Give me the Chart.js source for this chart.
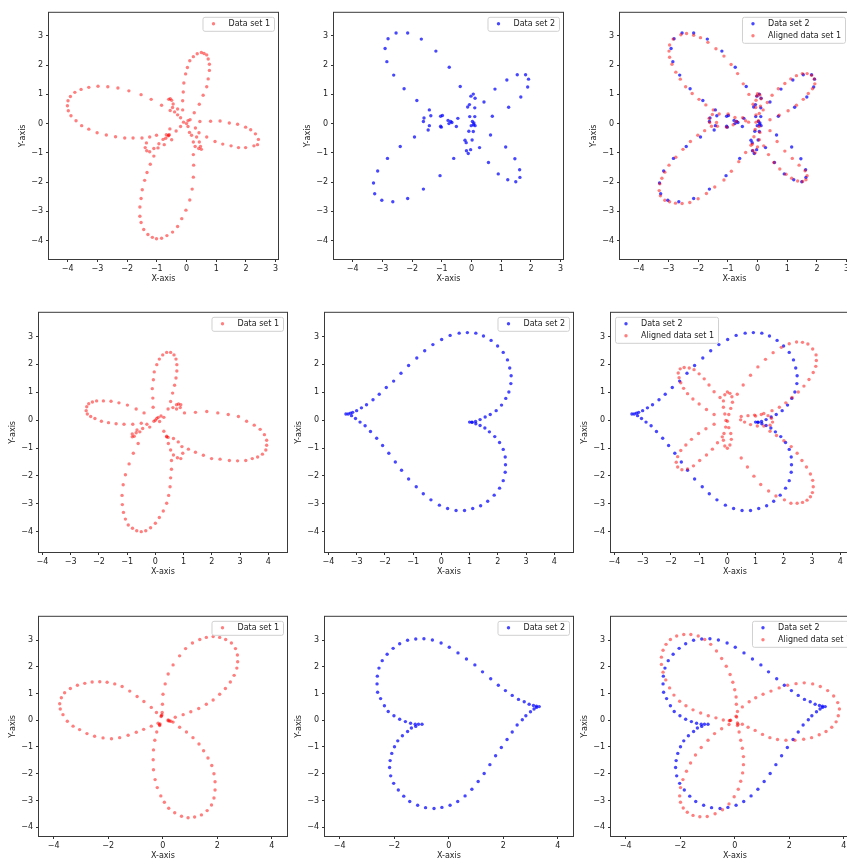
<!DOCTYPE html>
<html>
<head>
<meta charset="utf-8">
<script src="https://cdn.jsdelivr.net/npm/chart.js@4.4.0/dist/chart.umd.min.js"></script>
<style>
  html, body { margin: 0; padding: 0; background: #fff; overflow: hidden; width: 847px; height: 859px; }
  canvas { position: absolute; }
</style>
</head>
<body>
<script>
// ---- tick labels ----
var ticksX1 = [-4, -3, -2, -1, 0, 1, 2, 3];
var ticksX2 = [-4, -3, -2, -1, 0, 1, 2, 3, 4];
var ticksX3 = [-4, -2, 0, 2, 4];
var ticksY = [-4, -3, -2, -1, 0, 1, 2, 3];

// ---- row 1 : four petal rose ----
var rose4A = [
  [-0.13,0.47],[-0.13,0.78],[-0.11,1.08],[-0.09,1.39],[-0.03,1.70],[0.03,1.92],[0.11,2.15],[0.23,2.29],[0.36,2.39],[0.50,2.43],
  [0.59,2.40],[0.68,2.35],[0.73,2.21],[0.77,2.03],[0.77,1.82],[0.73,1.53],[0.68,1.26],[0.56,0.97],[0.43,0.66],[0.26,0.37],[0.12,0.13],
  [0.45,0.07],[0.81,0.08],[1.13,0.09],[1.44,0.02],[1.72,-0.02],[1.99,-0.12],[2.16,-0.21],[2.32,-0.35],[2.42,-0.54],[2.39,-0.72],
  [2.27,-0.76],[1.99,-0.82],[1.75,-0.82],[1.50,-0.76],[1.22,-0.70],[0.96,-0.61],[0.68,-0.46],[0.42,-0.31],
  [0.34,-0.46],[0.43,-0.63],[0.47,-0.78],[0.50,-0.88],[0.41,-0.85],[0.29,-0.78],[0.23,-0.63],[0.17,-0.40],
  [0.23,-1.06],[0.24,-1.42],[0.23,-1.83],[0.19,-2.24],[0.11,-2.61],[-0.02,-2.96],[-0.16,-3.25],[-0.30,-3.52],[-0.47,-3.71],[-0.66,-3.83],
  [-0.84,-3.92],[-1.01,-3.94],[-1.15,-3.89],[-1.30,-3.79],[-1.44,-3.62],[-1.53,-3.38],[-1.57,-3.17],[-1.57,-2.85],[-1.53,-2.56],
  [-1.49,-2.26],[-1.41,-1.94],[-1.33,-1.67],[-1.22,-1.39],[-1.10,-1.11],[-0.96,-0.83],
  [-1.35,-0.66],[-1.39,-0.82],[-1.34,-0.93],[-1.24,-0.96],[-1.10,-0.85],[-0.93,-0.69],[-0.79,-0.54],[-0.68,-0.38],[-0.56,-0.18],
  [-0.84,0.63],[-1.19,0.83],[-1.53,0.99],[-1.94,1.12],[-2.31,1.22],[-2.65,1.26],[-2.98,1.28],[-3.29,1.24],[-3.55,1.17],[-3.76,1.07],
  [-3.91,0.93],[-3.99,0.78],[-4.01,0.61],[-3.98,0.44],[-3.89,0.27],[-3.72,0.10],[-3.53,-0.07],[-3.29,-0.19],[-3.01,-0.31],[-2.70,-0.39],
  [-2.39,-0.45],[-2.08,-0.49],[-1.80,-0.49],[-1.50,-0.49],[-1.24,-0.46],[-1.01,-0.40],
  [-0.60,0.83],[-0.55,0.85],[-0.50,0.80],[-0.45,0.67],[-0.47,0.55],[-0.55,0.45],[-0.40,0.40],[-0.30,0.30],[-0.20,0.20],
  [-0.10,0.05],[0.00,0.00],[0.05,-0.10],[-0.20,-0.10],[-0.35,-0.25],[-0.60,-0.40],[-0.62,-0.42],[-0.58,-0.38],[-0.50,-0.55],
  [-0.70,-0.50],[-0.75,-0.72],[0.05,0.10],[0.10,-0.30],[0.30,-0.15],[-0.30,0.50]
];

var rose4B = [
  [-2.54,3.10],[-2.15,3.10],[-2.81,2.90],[-1.69,2.89],[-2.91,2.57],[-1.20,2.48],[-2.85,2.12],[-0.75,1.93],[-2.62,1.66],[-0.38,1.27],
  [-2.27,1.19],[-1.84,0.79],[-1.42,0.47],[-1.60,0.19],[-1.62,0.07],[-1.37,0.27],[-0.98,0.28],[-1.04,0.25],[-1.42,-0.07],[-1.46,-0.22],
  [-1.04,-0.09],[-1.02,-0.12],[-0.79,0.11],[-0.76,0.00],[-0.70,0.07],[-0.66,0.04],[-0.51,-0.10],[-0.46,0.18],[-1.92,-0.46],[-2.40,-0.78],
  [-2.83,-1.19],[-3.16,-1.62],[-3.30,-2.03],[-3.26,-2.40],[-3.02,-2.62],[-2.65,-2.67],[-2.15,-2.56],[-1.62,-2.24],[-1.06,-1.78],[-0.60,-1.19],
  [-0.22,-0.57],[-0.18,-0.65],[-0.17,-0.93],[-0.11,-1.02],[-0.03,-0.89],[0.27,-0.82],[0.02,-0.56],[-0.09,-0.26],[0.06,-0.27],[-0.06,0.24],
  [-0.01,-0.07],[0.07,-0.04],[0.08,0.02],[0.03,0.07],[0.12,-0.07],[0.11,0.24],[-0.07,0.65],[-0.13,0.57],[-0.02,0.94],[0.06,1.01],
  [0.12,0.87],[0.11,0.54],[0.42,0.74],[0.70,0.25],[0.64,-0.39],[0.57,-1.33],[0.90,-1.72],[1.22,-1.92],[1.49,-1.99],[1.63,-1.84],
  [1.62,-1.58],[1.46,-1.20],[1.15,-0.80],[1.25,0.56],[1.66,0.91],[1.89,1.25],[1.92,1.52],[1.82,1.67],[1.54,1.67],[1.19,1.49],[0.79,1.18]
];

var rose4BAligned = [
  [-2.39,3.08],[-2.58,3.04],[-2.84,2.89],[-2.96,2.69],[-2.98,2.48],[-2.96,2.27],[-2.88,2.03],[-2.75,1.76],[-2.60,1.52],[-2.42,1.26],
  [-2.20,1.03],[-1.97,0.83],[-1.74,0.64],[-1.49,0.47],
  [-2.15,3.02],[-1.92,2.94],[-1.67,2.78],[-1.40,2.56],[-1.13,2.31],[-0.89,2.02],[-0.67,1.71],[-0.48,1.36],[-0.29,1.00],[-0.15,0.66],
  [-3.31,-2.29],[-3.29,-2.06],[-3.27,-2.47],[-3.12,-2.62],[-2.96,-2.67],[-2.76,-2.72],[-2.54,-2.73],[-2.28,-2.70],[-2.00,-2.57],
  [-1.72,-2.39],[-1.44,-2.17],[-1.13,-1.93],[-0.88,-1.63],[-0.63,-1.30],[-0.40,-0.99],[-0.22,-0.74],
  [-3.22,-1.87],[-3.12,-1.66],[-2.98,-1.42],[-2.75,-1.15],[-2.51,-0.88],[-2.26,-0.61],[-2.01,-0.40],[-1.78,-0.24],[-1.55,-0.09],[-1.38,0.04],
  [-1.29,0.33],[-0.99,0.33],[-0.76,0.21],[-0.71,0.07],[-0.82,-0.04],[-1.04,-0.12],[-1.35,-0.09],[-1.61,0.04],[-1.63,0.18],[-1.52,0.31],
  [-0.50,0.20],[-0.40,0.10],[-0.30,0.05],
  [0.00,1.02],[0.08,0.98],[0.12,0.85],[0.10,0.60],[0.06,0.35],[0.03,0.10],[0.05,-0.10],[0.08,-0.30],[0.06,-0.55],[0.00,-0.80],
  [-0.08,-1.00],[-0.15,-0.92],[-0.17,-0.70],[-0.12,-0.45],[-0.08,-0.20],[-0.05,0.05],[-0.05,0.30],[-0.06,0.55],[-0.05,0.80],[-0.03,0.95],
  [0.42,0.13],[0.73,0.29],[1.03,0.44],[1.31,0.63],[1.54,0.83],[1.71,1.03],[1.85,1.19],[1.93,1.36],[1.91,1.53],[1.82,1.65],
  [1.67,1.71],[1.51,1.71],[1.31,1.64],[1.12,1.53],[0.92,1.37],[0.70,1.19],[0.49,0.97],[0.33,0.72],[0.19,0.47],
  [0.42,-0.24],[0.66,-0.61],[0.92,-0.94],[1.17,-1.19],[1.40,-1.42],[1.60,-1.61],[1.67,-1.78],[1.63,-1.92],[1.52,-1.98],[1.35,-1.96],
  [1.15,-1.87],[0.96,-1.73],[0.75,-1.55],[0.55,-1.33],[0.37,-1.06],[0.21,-0.76]
];

// ---- row 2 : rose and heart ----
var rose4C = [
  [-0.08,0.46],[-0.09,0.79],[-0.11,1.13],[-0.07,1.45],[-0.04,1.73],[0.05,1.99],[0.14,2.19],[0.26,2.34],[0.40,2.43],[0.54,2.43],
  [0.66,2.34],[0.73,2.19],[0.76,1.99],[0.76,1.76],[0.73,1.51],[0.68,1.25],[0.61,0.97],[0.54,0.67],[0.45,0.40],
  [1.03,0.26],[1.42,0.28],[1.82,0.31],[2.21,0.26],[2.58,0.20],[2.94,0.13],[3.23,-0.04],[3.50,-0.18],[3.71,-0.33],[3.86,-0.52],
  [3.94,-0.72],[3.94,-0.90],[3.91,-1.07],[3.79,-1.22],[3.62,-1.32],[3.43,-1.38],[3.20,-1.45],[2.91,-1.46],[2.62,-1.45],[2.29,-1.40],
  [1.99,-1.38],[1.70,-1.26],[1.42,-1.15],[1.17,-1.04],
  [0.40,-0.58],[0.46,-0.84],[0.54,-1.07],[0.64,-1.25],[0.78,-1.35],[0.90,-1.38],[0.97,-1.19],[0.94,-0.95],[0.81,-0.78],[0.64,-0.66],
  [0.57,-1.45],[0.57,-1.76],[0.54,-2.07],[0.52,-2.39],[0.47,-2.70],[0.40,-2.98],[0.28,-3.26],[0.14,-3.49],[0.00,-3.70],[-0.17,-3.86],
  [-0.34,-3.97],[-0.50,-4.00],[-0.66,-3.97],[-0.81,-3.88],[-0.96,-3.76],[-1.06,-3.55],[-1.13,-3.31],[-1.17,-3.03],[-1.18,-2.70],
  [-1.14,-2.32],[-1.06,-1.96],[-0.93,-1.57],[-0.78,-1.19],[-0.61,-0.84],
  [-0.40,0.26],[-0.68,0.40],[-0.99,0.54],[-1.29,0.62],[-1.57,0.68],[-1.84,0.69],[-2.08,0.69],[-2.23,0.65],[-2.36,0.59],[-2.43,0.48],
  [-2.45,0.34],[-2.41,0.22],[-2.29,0.13],[-2.14,0.06],[-1.91,-0.04],[-1.66,-0.09],[-1.39,-0.13],[-1.11,-0.15],[-0.80,-0.15],[-0.50,-0.11],
  [0.75,0.55],[0.82,0.58],[0.90,0.55],[0.88,0.45],[0.75,0.40],[0.62,0.45],
  [-0.82,-0.50],[-0.82,-0.60],[-0.75,-0.58],[-0.68,-0.45],[-0.55,-0.42],[-0.45,-0.30],[-0.65,-0.35],
  [0.00,0.00],[0.05,0.06],[-0.05,-0.04],[0.10,0.10],[0.20,0.15],[0.30,0.10],[-0.20,-0.25],[-0.30,-0.15],[0.15,-0.05],
  [0.30,-0.40],[0.40,-0.60],[0.45,-0.62]
];

var heartA = [
  [-3.38,0.22],[-3.30,0.22],[-3.22,0.25],[-3.14,0.28],[-3.00,0.34],[-2.83,0.44],[-2.65,0.55],[-2.42,0.73],[-2.20,0.93],[-1.95,1.17],
  [-1.69,1.40],[-1.43,1.68],[-1.16,1.96],[-0.87,2.23],[-0.59,2.49],[-0.30,2.71],[0.01,2.89],[0.31,3.04],[0.63,3.12],[0.92,3.14],
  [1.22,3.12],[1.49,3.02],[1.76,2.86],[1.99,2.66],[2.19,2.43],[2.34,2.16],[2.42,1.87],[2.47,1.59],[2.46,1.31],[2.39,1.01],
  [2.28,0.78],[2.13,0.54],[1.94,0.34],[1.73,0.20],[1.55,0.11],[1.37,0.02],[1.21,-0.05],[1.08,-0.07],[1.00,-0.07],
  [-3.18,0.16],[-3.04,0.06],[-2.88,-0.07],[-2.70,-0.20],[-2.51,-0.41],[-2.29,-0.65],[-2.08,-0.91],[-1.86,-1.19],[-1.63,-1.50],[-1.41,-1.80],
  [-1.16,-2.11],[-0.89,-2.39],[-0.64,-2.64],[-0.37,-2.86],[-0.07,-3.05],[0.22,-3.17],[0.52,-3.24],[0.82,-3.24],[1.11,-3.17],[1.39,-3.07],
  [1.64,-2.91],[1.87,-2.69],[2.06,-2.44],[2.19,-2.17],[2.26,-1.87],[2.27,-1.60],[2.26,-1.32],[2.19,-1.05],[2.06,-0.80],[1.89,-0.59],
  [1.70,-0.42],[1.54,-0.28],[1.37,-0.19],[1.22,-0.13],[1.09,-0.08]
];

var rose4CAligned = [
  [0.35,0.93],[0.56,1.26],[0.82,1.61],[1.08,1.91],[1.35,2.18],[1.62,2.42],[1.91,2.61],[2.19,2.74],[2.45,2.80],[2.66,2.79],
  [2.85,2.73],[3.02,2.55],[3.14,2.34],[3.15,2.14],[3.13,1.93],[3.04,1.71],[2.89,1.46],[2.71,1.22],[2.51,1.01],[2.29,0.81],
  [2.07,0.62],[1.84,0.46],[1.58,0.34],[1.29,0.24],[1.00,0.15],
  [0.49,-1.36],[0.71,-1.68],[0.94,-2.01],[1.18,-2.31],[1.46,-2.54],[1.72,-2.72],[2.02,-2.86],[2.25,-2.98],[2.47,-2.98],[2.66,-2.95],
  [2.82,-2.87],[2.94,-2.75],[3.01,-2.60],[3.04,-2.39],[3.02,-2.16],[2.94,-1.93],[2.80,-1.68],[2.64,-1.45],[2.47,-1.19],[2.26,-0.95],
  [2.00,-0.74],[1.74,-0.55],[1.51,-0.40],
  [-0.26,0.81],[-0.47,1.02],[-0.65,1.26],[-0.82,1.48],[-1.00,1.66],[-1.18,1.81],[-1.35,1.87],[-1.53,1.89],[-1.67,1.84],[-1.74,1.69],
  [-1.71,1.52],[-1.65,1.34],[-1.55,1.14],[-1.41,0.95],[-1.22,0.76],[-1.00,0.58],[-0.74,0.38],[-0.47,0.20],
  [-0.18,-0.60],[-0.35,-0.81],[-0.53,-1.04],[-0.74,-1.25],[-0.98,-1.45],[-1.20,-1.64],[-1.41,-1.75],[-1.61,-1.78],[-1.76,-1.68],
  [-1.81,-1.51],[-1.76,-1.31],[-1.65,-1.09],[-1.47,-0.89],[-1.27,-0.69],[-1.02,-0.48],[-0.76,-0.31],[-0.47,-0.15],
  [0.00,1.01],[0.09,0.96],[0.16,0.84],[0.18,0.64],[0.12,0.42],[0.05,0.20],[0.00,-0.04],[0.05,-0.27],[0.12,-0.48],[0.14,-0.69],
  [0.09,-0.89],[0.00,-1.01],[-0.09,-0.93],[-0.14,-0.72],[-0.12,-0.48],[-0.06,-0.25],[-0.05,-0.01],[-0.09,0.22],[-0.14,0.46],
  [-0.14,0.69],[-0.09,0.91],
  [0.49,0.13],[0.73,0.16],[0.96,0.18],[1.20,0.20],[1.44,0.16],[1.56,0.07],[1.60,-0.07],[1.51,-0.18],[1.29,-0.21],[1.06,-0.21],
  [0.82,-0.16],[0.61,-0.07],[0.47,0.01]
];

// ---- row 3 : three petal rose and heart ----
var rose3 = [
  [-0.02,0.29],[-0.01,0.60],[0.01,0.97],[0.09,1.36],[0.20,1.73],[0.38,2.07],[0.62,2.41],[0.84,2.68],[1.09,2.89],[1.36,3.02],
  [1.60,3.10],[1.85,3.13],[2.09,3.10],[2.31,3.02],[2.52,2.89],[2.67,2.68],[2.74,2.44],[2.75,2.19],[2.72,1.95],[2.62,1.68],
  [2.48,1.43],[2.30,1.19],[2.09,0.97],[1.85,0.76],[1.60,0.60],[1.32,0.44],[1.03,0.32],[0.75,0.21],[0.46,0.11],[0.20,0.01],
  [0.38,-0.07],[0.62,-0.26],[0.87,-0.44],[1.11,-0.65],[1.33,-0.89],[1.50,-1.14],[1.66,-1.41],[1.80,-1.69],[1.88,-2.00],[1.92,-2.30],
  [1.92,-2.61],[1.88,-2.91],[1.79,-3.17],[1.63,-3.38],[1.42,-3.54],[1.17,-3.62],[0.93,-3.65],[0.69,-3.59],[0.44,-3.46],[0.22,-3.29],
  [0.06,-3.07],[-0.07,-2.83],[-0.20,-2.52],[-0.28,-2.22],[-0.34,-1.85],[-0.35,-1.48],[-0.34,-1.11],[-0.29,-0.75],[-0.22,-0.44],[-0.11,-0.20],
  [-0.23,0.29],[-0.42,0.48],[-0.69,0.70],[-0.94,0.89],[-1.21,1.09],[-1.49,1.26],[-1.76,1.36],[-2.04,1.42],[-2.31,1.44],[-2.59,1.43],
  [-2.86,1.38],[-3.13,1.31],[-3.39,1.19],[-3.60,1.03],[-3.72,0.84],[-3.78,0.62],[-3.76,0.42],[-3.66,0.21],[-3.50,-0.04],[-3.29,-0.22],
  [-3.05,-0.35],[-2.78,-0.50],[-2.50,-0.60],[-2.19,-0.66],[-1.88,-0.69],[-1.58,-0.65],[-1.27,-0.56],[-0.97,-0.45],[-0.70,-0.34],[-0.42,-0.22],
  [-0.17,-0.11],
  [-0.05,0.17],[-0.03,0.20],[-0.06,0.14],[0.25,-0.03],[0.20,-0.02],[-0.10,-0.14],[-0.12,-0.17],[0.30,-0.04]
];

var heartB = [
  [3.32,0.51],[3.22,0.53],[3.11,0.55],[2.95,0.60],[2.77,0.69],[2.56,0.78],[2.33,0.93],[2.08,1.11],[1.82,1.31],[1.54,1.55],
  [1.24,1.81],[0.96,2.07],[0.65,2.29],[0.34,2.52],[0.02,2.73],[-0.28,2.89],[-0.60,3.00],[-0.91,3.05],[-1.21,3.04],[-1.51,2.99],
  [-1.80,2.86],[-2.04,2.69],[-2.26,2.47],[-2.44,2.23],[-2.56,1.95],[-2.62,1.65],[-2.63,1.36],[-2.61,1.05],[-2.50,0.81],[-2.36,0.54],
  [-2.22,0.33],[-2.01,0.17],[-1.80,0.04],[-1.59,-0.05],[-1.40,-0.11],[-1.23,-0.15],[-1.11,-0.15],[-0.98,-0.15],
  [-1.21,-0.23],[-1.37,-0.29],[-1.51,-0.42],[-1.70,-0.58],[-1.87,-0.77],[-1.99,-0.99],[-2.09,-1.24],[-2.15,-1.51],[-2.17,-1.77],[-2.13,-2.08],
  [-2.02,-2.36],[-1.85,-2.61],[-1.65,-2.84],[-1.43,-3.04],[-1.14,-3.18],[-0.85,-3.27],[-0.54,-3.30],[-0.25,-3.26],[0.05,-3.18],[0.33,-3.04],
  [0.60,-2.83],[0.85,-2.58],[1.08,-2.29],[1.30,-1.99],[1.51,-1.66],[1.72,-1.33],[1.93,-1.02],[2.14,-0.72],[2.33,-0.44],[2.51,-0.18],
  [2.70,0.02],[2.83,0.17],[3.00,0.32],[3.13,0.42],[3.22,0.48]
];

var rose3Aligned = [
  [0.06,0.60],[0.05,0.87],[0.00,1.14],[-0.07,1.42],[-0.17,1.71],[-0.31,2.02],[-0.48,2.31],[-0.67,2.59],[-0.88,2.84],[-1.10,3.02],
  [-1.34,3.15],[-1.61,3.21],[-1.87,3.21],[-2.13,3.15],[-2.36,3.02],[-2.52,2.84],[-2.63,2.62],[-2.69,2.36],[-2.69,2.09],[-2.63,1.80],
  [-2.53,1.51],[-2.39,1.21],[-2.23,0.94],[-2.02,0.71],[-1.79,0.54],[-1.53,0.39],[-1.25,0.27],[-0.97,0.17],[-0.69,0.09],[-0.42,0.01],
  [-0.17,-0.01],
  [0.10,0.33],[0.28,0.50],[0.53,0.69],[0.77,0.84],[1.04,0.97],[1.33,1.09],[1.63,1.21],[1.94,1.31],[2.25,1.37],[2.55,1.40],
  [2.86,1.36],[3.14,1.26],[3.41,1.11],[3.63,0.91],[3.78,0.66],[3.84,0.42],[3.80,0.17],[3.72,-0.06],[3.56,-0.26],[3.35,-0.42],
  [3.10,-0.54],[2.82,-0.65],[2.53,-0.71],[2.21,-0.75],[1.88,-0.75],[1.57,-0.72],[1.29,-0.65],[1.02,-0.53],[0.75,-0.38],[0.49,-0.26],
  [0.28,-0.15],
  [0.10,-0.20],[0.16,-0.44],[0.22,-0.75],[0.28,-1.05],[0.32,-1.36],[0.32,-1.66],[0.29,-1.97],[0.22,-2.28],[0.13,-2.58],[-0.02,-2.86],
  [-0.21,-3.13],[-0.45,-3.35],[-0.72,-3.50],[-1.01,-3.60],[-1.28,-3.61],[-1.53,-3.56],[-1.74,-3.44],[-1.89,-3.28],[-1.99,-3.07],
  [-2.02,-2.83],[-1.99,-2.52],[-1.90,-2.22],[-1.77,-1.91],[-1.62,-1.60],[-1.44,-1.30],[-1.23,-1.02],[-0.98,-0.75],[-0.74,-0.50],
  [-0.48,-0.32],[-0.21,-0.16],
  [0.07,0.12],[0.05,0.15],[0.10,-0.10],[0.12,-0.15],[-0.20,-0.02],[-0.15,0.00]
];

// ---- drawing ----
var RED = 'rgba(255,0,0,0.5)';
var BLUE = 'rgba(0,0,255,0.72)';
var FONT = 'DejaVu Sans';

function toXY(arr) {
  return arr.map(function (p) { return { x: p[0], y: p[1] }; });
}

function minus(v) {
  return v < 0 ? '\u2212' + Math.abs(v) : String(v);
}

// frame around the axes plus a matplotlib style legend box
var frameLegend = {
  id: 'frameLegend',
  afterDatasetsDraw: function (chart, args, opts) {
    var ctx = chart.ctx, a = chart.chartArea;
    ctx.save();
    ctx.strokeStyle = '#3a3a3a';
    ctx.lineWidth = 1;
    ctx.strokeRect(a.left - 0.5, a.top - 0.5, a.right - a.left + 1, a.bottom - a.top + 1);

    var sets = chart.data.datasets;
    ctx.font = '8px "' + FONT + '"';
    var tw = 0;
    sets.forEach(function (d) { tw = Math.max(tw, ctx.measureText(d.label).width); });
    var bw = tw + 30, bh = sets.length * 12 + 2;
    var bx = opts.side === 'left' ? a.left + 4 : a.right - 4 - bw;
    var by = a.top + 4;
    ctx.beginPath();
    ctx.roundRect(bx + 0.5, by + 0.5, bw, bh, 2);
    ctx.fillStyle = 'rgba(255,255,255,0.8)';
    ctx.fill();
    ctx.strokeStyle = '#d0d0d0';
    ctx.stroke();
    sets.forEach(function (d, i) {
      var cy = by + 7 + i * 12;
      ctx.beginPath();
      ctx.arc(bx + 11, cy, 1.7, 0, Math.PI * 2);
      ctx.fillStyle = d.backgroundColor;
      ctx.fill();
      ctx.fillStyle = '#222';
      ctx.textBaseline = 'middle';
      ctx.textAlign = 'left';
      ctx.fillText(d.label, bx + 26, cy + 0.5);
    });
    ctx.restore();
  }
};

var panels = [
  { box: [49, 9, 229, 250], xr: [-4.63, 3.08], yr: [-4.63, 3.79], xt: ticksX1,
    sets: [['Data set 1', rose4A, RED]] },
  { box: [334, 9, 229, 250], xr: [-4.63, 3.08], yr: [-4.63, 3.79], xt: ticksX1,
    sets: [['Data set 2', rose4B, BLUE]] },
  { box: [620, 9, 229, 250], xr: [-4.63, 3.08], yr: [-4.63, 3.79], xt: ticksX1,
    sets: [['Data set 2', rose4B, BLUE], ['Aligned data set 1', rose4BAligned, RED]] },
  { box: [39, 309, 248, 243], xr: [-4.12, 4.66], yr: [-4.73, 3.85], xt: ticksX2,
    sets: [['Data set 1', rose4C, RED]] },
  { box: [325, 309, 248, 243], xr: [-4.12, 4.66], yr: [-4.73, 3.85], xt: ticksX2,
    sets: [['Data set 2', heartA, BLUE]] },
  { box: [611, 309, 248, 243], xr: [-4.12, 4.66], yr: [-4.73, 3.85], xt: ticksX2, side: 'left',
    sets: [['Data set 2', heartA, BLUE], ['Aligned data set 1', rose4CAligned, RED]] },
  { box: [39, 613, 248, 223], xr: [-4.54, 4.56], yr: [-4.33, 3.87], xt: ticksX3,
    sets: [['Data set 1', rose3, RED]] },
  { box: [325, 613, 248, 223], xr: [-4.54, 4.56], yr: [-4.33, 3.87], xt: ticksX3,
    sets: [['Data set 2', heartB, BLUE]] },
  { box: [611, 613, 248, 223], xr: [-4.54, 4.56], yr: [-4.33, 3.87], xt: ticksX3,
    sets: [['Data set 2', heartB, BLUE], ['Aligned data set 1', rose3Aligned, RED]] }
];

var LEFT = 40, BOTTOM = 28, TOP = 4, RIGHT = 4;

panels.forEach(function (p) {
  var canvas = document.createElement('canvas');
  canvas.width = p.box[2] + LEFT + RIGHT;
  canvas.height = p.box[3] + TOP + BOTTOM;
  canvas.style.left = (p.box[0] - LEFT) + 'px';
  canvas.style.top = (p.box[1] - TOP) + 'px';
  document.body.appendChild(canvas);

  var datasets = p.sets.map(function (s, i) {
    return {
      label: s[0],
      data: toXY(s[1]),
      backgroundColor: s[2],
      borderWidth: 0,
      pointRadius: 1.7,
      pointHoverRadius: 1.7,
      order: p.sets.length - i
    };
  });

  var tickFont = { family: FONT, size: 8 };
  new Chart(canvas.getContext('2d'), {
    type: 'scatter',
    data: { datasets: datasets },
    options: {
      responsive: false,
      animation: false,
      devicePixelRatio: 1,
      layout: { padding: { top: TOP, right: RIGHT, left: 0, bottom: 0 } },
      plugins: {
        legend: { display: false },
        tooltip: { enabled: false },
        frameLegend: { side: p.side || 'right' }
      },
      scales: {
        x: {
          type: 'linear', min: p.xr[0], max: p.xr[1], bounds: 'data',
          afterBuildTicks: function (s) { s.ticks = p.xt.map(function (v) { return { value: v }; }); },
          afterFit: function (s) { s.height = BOTTOM; },
          grid: { drawOnChartArea: false, drawTicks: true, tickLength: 3, color: '#333' },
          border: { display: false },
          ticks: { font: tickFont, color: '#222', padding: 2, maxRotation: 0, autoSkip: false,
                   callback: function (v) { return minus(v); } },
          title: { display: true, text: 'X-axis', font: tickFont, color: '#222', padding: { top: 0, bottom: 3 } }
        },
        y: {
          type: 'linear', min: p.yr[0], max: p.yr[1], bounds: 'data',
          afterBuildTicks: function (s) { s.ticks = ticksY.map(function (v) { return { value: v }; }); },
          afterFit: function (s) { s.width = LEFT; },
          grid: { drawOnChartArea: false, drawTicks: true, tickLength: 3, color: '#333' },
          border: { display: false },
          ticks: { font: tickFont, color: '#222', padding: 3, autoSkip: false,
                   callback: function (v) { return minus(v); } },
          title: { display: true, text: 'Y-axis', font: tickFont, color: '#222', padding: { top: 9, bottom: 0 } }
        }
      }
    },
    plugins: [frameLegend]
  });
});
</script>
</body>
</html>
